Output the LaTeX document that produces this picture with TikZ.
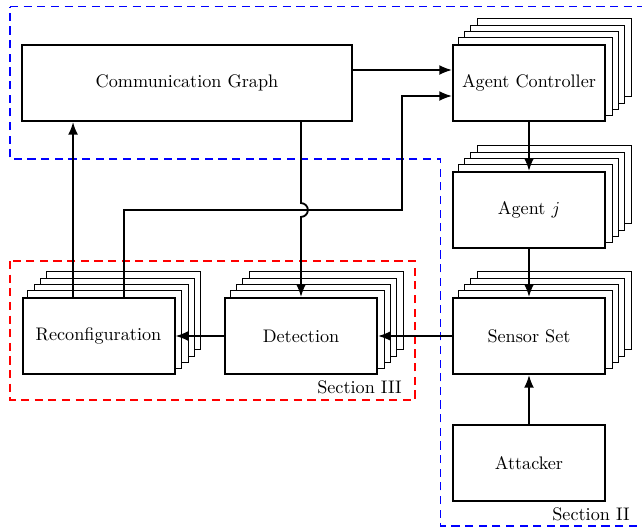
\documentclass[tikz,border=0pt]{standalone}
\usetikzlibrary{arrows.meta,calc}
\pgfdeclarelayer{back}
\pgfsetlayers{back,main}
\begin{document}
\begin{tikzpicture}[x=0.55pt,y=-0.55pt,
    block/.style={draw,line width=1.1pt,fill=white,minimum width=83.6pt,minimum height=41.8pt,inner sep=0pt},
    copybox/.style={draw,line width=0.6pt,fill=white},
    link/.style={line width=1pt,-{Latex[length=7pt,width=5.5pt]}},
    zone/.style={line width=0.7pt,dash pattern=on 4.5pt off 3pt}]
  \useasboundingbox (0,0) rectangle (642,527);
  \draw
    (187,83) node[block,minimum width=181.5pt] (graph){Communication Graph}
    (529,83) node[block] (ctrl){Agent Controller}
    (529,210) node[block] (agent){Agent $j$}
    (529,336) node[block] (sensor){Sensor Set}
    (529,463) node[block] (attack){Attacker}
    (98.5,336) node[block] (reconf){Reconfiguration}
    (301,336) node[block] (detect){Detection};
  \begin{pgfonlayer}{back}
    \foreach \n in {ctrl,agent,sensor,reconf,detect}
      \foreach \k in {4,3,2,1}
        \draw[copybox] ([shift={(6.3*\k,-6.3*\k)}]\n.south west) rectangle ([shift={(6.3*\k,-6.3*\k)}]\n.north east);
  \end{pgfonlayer}
  \draw[zone,blue] (10,6.5) -- (650,6.5) -- (650,526) -- (440.5,526) -- (440.5,159) -- (10,159) -- cycle;
  \draw[zone,red] (10,261) rectangle (415,400);
  \node[anchor=base east,inner sep=0pt] (sec3) at (402,393) {Section III};
  \node[anchor=base east,inner sep=0pt] (sec2) at (630,520) {Section II};
  \coordinate (bend) at (402,210);
  \coordinate (hop) at (detect.north |- bend);
  \begin{scope}[link]
    \draw ([yshift=7.15pt]graph.east) to ([yshift=7.15pt]ctrl.west);
    \draw (ctrl) to (agent);
    \draw (agent) to (sensor);
    \draw (attack) to (sensor);
    \draw (sensor) to (detect);
    \draw (detect) to (reconf);
    \draw ([xshift=-14pt]reconf.north) to ([xshift=-14pt]reconf.north |- graph.south);
    \draw ([xshift=14pt]reconf.north) |- (bend) |- ([yshift=-7.15pt]ctrl.west);
    \draw (detect.north |- graph.south) -- ([yshift=3.8pt]hop) arc[start angle=90,end angle=-90,radius=3.8pt] -- (detect.north);
  \end{scope}
\end{tikzpicture}
\end{document}
